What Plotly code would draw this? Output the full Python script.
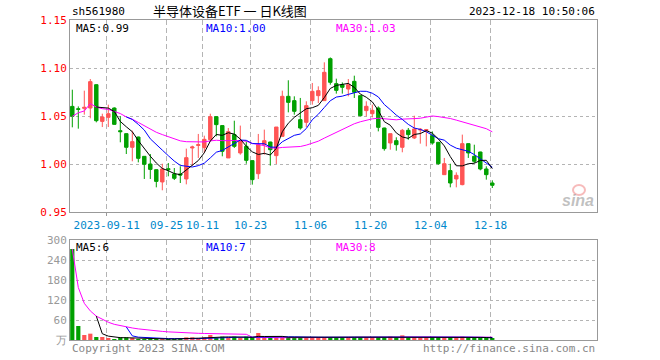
import plotly.graph_objects as go
import pandas as pd

# ---------------- data ----------------
opens = [1.0600, 1.0575, 1.0580, 1.0583, 1.0826, 1.0444, 1.0486, 1.0583, 1.0347, 1.0316,
         1.0174, 1.0281, 1.0080, 1.0000, 0.9941, 0.9813, 0.9951, 0.9896, 0.9896, 0.9844,
         1.0167, 1.0194, 1.0170, 1.0253, 1.0493, 1.0400, 1.0063, 1.0306, 1.0115, 1.0184,
         1.0035, 0.9899, 1.0201, 1.0229, 1.0087, 1.0288, 1.0705, 1.0660, 1.0462, 1.0434,
         1.0660, 1.0712, 1.0660, 1.1097, 1.0837, 1.0826, 1.0781, 1.0861, 1.0712, 1.0556,
         1.0524, 1.0583, 1.0375, 1.0219, 1.0243, 1.0174, 1.0351, 1.0271, 1.0354, 1.0347,
         1.0295, 1.0226, 0.9889, 0.9931, 0.9844, 0.9785, 1.0212, 1.0080, 1.0125, 0.9948,
         0.9802]
highs = [1.0774, 1.0600, 1.0764, 1.0885, 1.0830, 1.0524, 1.0618, 1.0590, 1.0497, 1.0320,
         1.0347, 1.0285, 1.0083, 1.0104, 0.9944, 1.0003, 1.0010, 0.9958, 0.9976, 1.0160,
         1.0191, 1.0313, 1.0295, 1.0524, 1.0497, 1.0403, 1.0375, 1.0451, 1.0400, 1.0236,
         1.0038, 1.0313, 1.0358, 1.0232, 1.0385, 1.0764, 1.0872, 1.0705, 1.0688, 1.0653,
         1.0844, 1.0809, 1.1059, 1.1110, 1.0889, 1.0850, 1.0885, 1.0920, 1.0715, 1.0653,
         1.0618, 1.0600, 1.0378, 1.0316, 1.0278, 1.0365, 1.0375, 1.0503, 1.0375, 1.0365,
         1.0340, 1.0229, 1.0063, 1.0003, 0.9913, 1.0306, 1.0215, 1.0201, 1.0128, 0.9976,
         0.9830]
lows = [1.0382, 1.0368, 1.0514, 1.0476, 1.0434, 1.0385, 1.0385, 1.0410, 1.0226, 1.0104,
        1.0028, 1.0017, 0.9844, 0.9844, 0.9757, 0.9726, 0.9872, 0.9833, 0.9802, 0.9788,
        0.9983, 1.0063, 1.0115, 1.0236, 1.0288, 1.0080, 1.0063, 1.0167, 1.0097, 1.0003,
        0.9785, 0.9844, 1.0097, 0.9983, 1.0000, 1.0288, 1.0538, 1.0514, 1.0358, 1.0385,
        1.0618, 1.0635, 1.0660, 1.0826, 1.0733, 1.0733, 1.0705, 1.0688, 1.0497, 1.0497,
        1.0486, 1.0340, 1.0139, 1.0149, 1.0139, 1.0122, 1.0253, 1.0260, 1.0212, 1.0184,
        1.0201, 0.9993, 0.9889, 0.9757, 0.9757, 0.9778, 1.0063, 1.0010, 0.9934, 0.9837,
        0.9750]
closes = [1.0497, 1.0570, 1.0590, 1.0858, 1.0451, 1.0490, 1.0524, 1.0413, 1.0337, 1.0174,
          1.0233, 1.0059, 0.9997, 0.9944, 0.9819, 0.9948, 0.9941, 0.9851, 0.9885, 1.0066,
          1.0177, 1.0201, 1.0257, 1.0493, 1.0410, 1.0132, 1.0337, 1.0184, 1.0236, 1.0038,
          0.9837, 1.0201, 1.0243, 1.0149, 1.0385, 1.0705, 1.0642, 1.0549, 1.0375, 1.0608,
          1.0757, 1.0764, 1.0955, 1.0851, 1.0767, 1.0799, 1.0826, 1.0747, 1.0503, 1.0601,
          1.0559, 1.0382, 1.0160, 1.0316, 1.0201, 1.0351, 1.0306, 1.0365, 1.0361, 1.0358,
          1.0219, 1.0003, 1.0003, 0.9802, 0.9882, 1.0212, 1.0115, 1.0028, 0.9948, 0.9889,
          0.9778]
volumes = [273, 42, 15, 19, 9, 9, 6, 3, 8, 8,
           5, 3, 3, 3, 3, 3, 3, 3, 3, 8,
           8, 5, 8, 15, 6, 10, 7, 10, 6, 10,
           7, 21, 9, 6, 8, 10, 9, 8, 9, 8,
           9, 8, 8, 9, 8, 9, 8, 9, 9, 9,
           9, 9, 9, 10, 8, 14, 8, 9, 8, 8,
           8, 9, 8, 9, 8, 10, 8, 6, 7, 6,
           4]
tick_index = [6, 16, 22, 30, 40, 50, 60, 70]
tick_labels = ["2023-09-11", "09-25", "10-11", "10-23", "11-06", "11-20", "12-04", "12-18"]
price_ticks = [0.95, 1.00, 1.05, 1.10, 1.15]
price_tick_labels = ["0.95", "1.00", "1.05", "1.10", "1.15"]
vol_ticks = [0, 60, 120, 180, 240, 300]
vol_tick_labels = ["万", "60", "120", "180", "240", "300"]
price_ma_labels = ["MA5:0.99", "MA10:1.00", "MA30:1.03"]
vol_ma_labels = ["MA5:6", "MA10:7", "MA30:8"]

# ---------------- styling ----------------
RED = "#ff5555"
GREEN = "#00a000"
MONO = "DejaVu Sans Mono"
W, H = 660, 360
L, R, T, B = 70, 63, 20, 20
PW, PH = W - L - R, H - T - B

def px(x):
    return (x - L) / PW

def py(y):
    return (H - B - y) / PH

idx = list(range(len(closes)))
cs = pd.Series(closes)
vs = pd.Series(volumes)
ma5 = cs.rolling(5).mean()
ma10 = cs.rolling(10).mean()
ma30 = cs.rolling(30, min_periods=1).mean()
vma5 = vs.rolling(5).mean()
vma10 = vs.rolling(10).mean()
vma30 = vs.rolling(30, min_periods=1).mean()
bar_colors = [RED if c >= o else GREEN for o, c in zip(opens, closes)]

fig = go.Figure()
fig.add_trace(go.Candlestick(
    x=idx, open=opens, high=highs, low=lows, close=closes,
    increasing=dict(line=dict(color=RED, width=1), fillcolor=RED),
    decreasing=dict(line=dict(color=GREEN, width=1), fillcolor=GREEN),
    whiskerwidth=0, xaxis="x", yaxis="y", showlegend=False, hoverinfo="skip"))
for s, col in [(ma30, "#ff00ff"), (ma10, "#0000ff"), (ma5, "#000000")]:
    fig.add_trace(go.Scatter(x=idx, y=s, mode="lines", line=dict(color=col, width=1),
                             xaxis="x", yaxis="y", showlegend=False, hoverinfo="skip"))
fig.add_trace(go.Bar(x=idx, y=volumes, marker=dict(color=bar_colors, line=dict(width=0)),
                     xaxis="x2", yaxis="y2", showlegend=False, hoverinfo="skip"))
for s, col in [(vma30, "#ff00ff"), (vma10, "#0000ff"), (vma5, "#000000")]:
    fig.add_trace(go.Scatter(x=idx, y=s, mode="lines", line=dict(color=col, width=1),
                             xaxis="x2", yaxis="y2", showlegend=False, hoverinfo="skip"))

xr = [(L - 72.3) / 6.0, (L + PW - 72.3) / 6.0]
grid_pos = [t - 0.27 for t in tick_index]
common_x = dict(range=xr, showgrid=True, gridcolor="#b4b4b4", griddash="5px,3px", gridwidth=1,
                showline=True, mirror=True, linecolor="#999999", linewidth=1, zeroline=False,
                tickvals=grid_pos, fixedrange=True)
fig.update_layout(
    width=W, height=H, margin=dict(l=L, r=R, t=T, b=B),
    paper_bgcolor="white", plot_bgcolor="white", bargap=0.3, boxgap=0.18,
    xaxis=dict(**common_x, domain=[0, 1], anchor="y", ticktext=tick_labels,
               ticks="outside", ticklen=3, tickcolor="#999999",
               tickfont=dict(family=MONO, size=11, color="#0088cc"),
               rangeslider=dict(visible=False)),
    yaxis=dict(domain=[0.4, 1], range=[0.95, 1.15], tickvals=price_ticks, ticktext=price_tick_labels,
               showgrid=True, gridcolor="#b4b4b4", griddash="dot", showline=True, mirror=True,
               linecolor="#999999", zeroline=False, ticks="",
               tickfont=dict(family=MONO, size=11, color="#ff0000"), fixedrange=True),
    xaxis2=dict(**common_x, domain=[0, 1], anchor="y2", showticklabels=False, ticks=""),
    yaxis2=dict(domain=[0, 0.3125], range=[0, 300], tickvals=vol_ticks, ticktext=vol_tick_labels,
                showgrid=True, gridcolor="#b4b4b4", griddash="dot", showline=True, mirror=True,
                linecolor="#999999", zeroline=False, ticks="",
                tickfont=dict(family=MONO, size=11, color="#999999"), fixedrange=True),
)

ann = []
def text(x, y, s, color="#000", size=11, xanchor="left", family=MONO):
    ann.append(dict(x=px(x), y=py(y), xref="paper", yref="paper", text=s, showarrow=False,
                    xanchor=xanchor, yanchor="middle", font=dict(family=family, size=size, color=color)))

text(70, 11, "sh561980")
text(230, 10, "半导体设备ETF 一 日K线图", size=13, xanchor="center", family="Noto Sans CJK SC")
text(597, 11, "2023-12-18 10:50:06", xanchor="right")
ma_cols = ["#000000", "#0000ff", "#ff00ff"]
for lab, xx, col in zip(price_ma_labels, [74, 204, 334], ma_cols):
    text(xx, 28, lab, color=col)
for lab, xx, col in zip(vol_ma_labels, [74, 204, 334], ma_cols):
    text(xx, 247, lab, color=col)
text(70, 348, "Copyright 2023 SINA.COM", color="#888888")
text(597, 348, "http://finance.sina.com.cn", color="#888888", xanchor="right")
text(596, 200, "<b><i>sina</i></b>", color="rgba(140,140,140,0.55)", size=16, xanchor="right",
     family="Liberation Sans")
fig.update_layout(annotations=ann)
fig.add_shape(type="circle", xref="paper", yref="paper",
              x0=px(573), x1=px(585), y0=py(195), y1=py(185),
              line=dict(color="rgba(240,120,120,0.5)", width=2))

fig.write_html("out.html")
